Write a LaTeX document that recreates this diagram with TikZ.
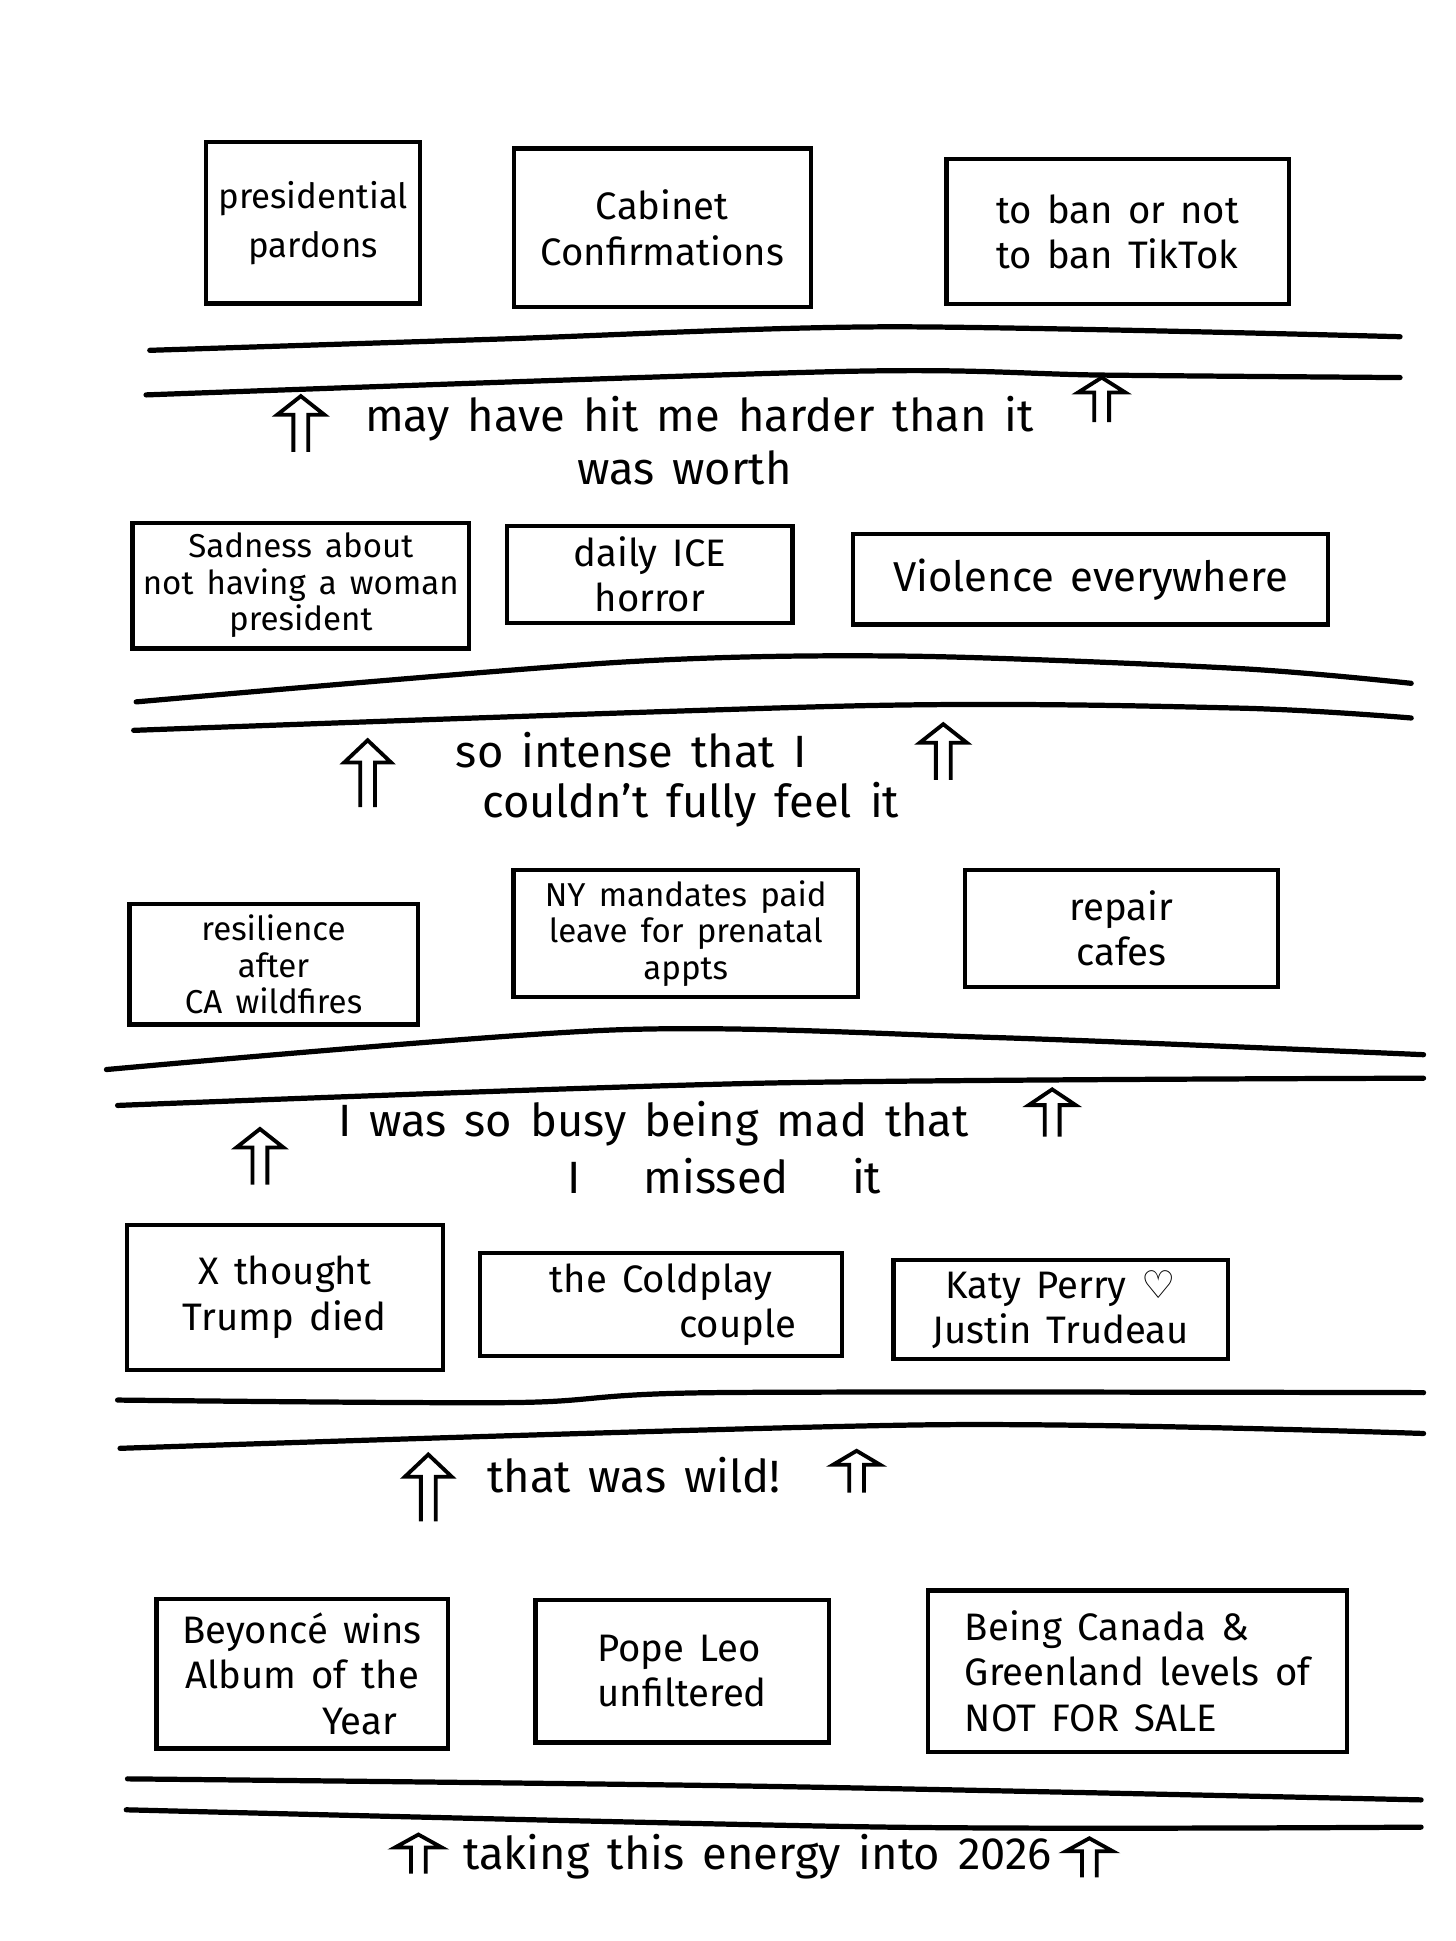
\documentclass[tikz,border=0pt]{standalone}
\usepackage{fontspec}
\setmainfont{Fira Sans}[WordSpace=1.5]
\newfontfamily\symfont{DejaVu Sans}
\usepackage{tikz}
\usetikzlibrary{positioning}
\tikzset{
  memobox/.style={draw=black,line width=1.2pt,align=center,inner sep=3pt,
    font=\fontsize{11}{13}\selectfont},
  memoboxs/.style={memobox,font=\fontsize{9.5}{10.5}\selectfont},
  rail/.style={line width=1.5pt,line cap=round},
  saying/.style={font=\fontsize{13}{15}\selectfont,inner sep=1pt},
  uparr/.pic={
    \draw[line width=1.1pt,line join=miter]
      (-6,45) -- (-6,15) -- (-19,15) -- (0,0) -- (19,15) -- (6,15) -- (6,45);
  }
}
\begin{document}
\begin{tikzpicture}[x=0.0125cm,y=-0.0125cm]
  \useasboundingbox[fill=white] (0,0) rectangle (1176,1568);
  % row 1
  \node[memobox,font=\fontsize{10}{14}\selectfont,minimum width=2.16cm,minimum height=1.63cm] (pardons) at (253,180) {presidential\\pardons};
  \node[memobox,minimum width=3.00cm,minimum height=1.60cm] (cabinet) at (535,184) {Cabinet\\Confirmations};
  \node[memobox,align=left,minimum width=3.46cm,minimum height=1.46cm] (tiktok) at (903,187) {to ban or not\\to ban TikTok};
  \draw[rail] plot[smooth] coordinates {(121,283) (400,274) (717,264) (1131,272)};
  \draw[rail] plot[smooth] coordinates {(118,319) (683,300) (891,303) (1131,305)};
  \pic at (243,320) {uparr};
  \pic[yscale=0.8] at (890,305) {uparr};
  \node[saying] (say1a) at (565,338) {may have hit me harder than it};
  \node[saying] (say1b) at (553,378) {was worth};
  % row 2
  \node[memoboxs,minimum width=3.09cm,minimum height=1.21cm] (sadness) at (243,473) {Sadness about\\not having a woman\\president};
  \node[memobox,minimum width=2.88cm,minimum height=0.98cm] (ice) at (525,464) {daily ICE\\horror};
  \node[memobox,font=\fontsize{12}{14}\selectfont,minimum width=4.79cm,minimum height=0.91cm] (violence) at (881,468) {Violence everywhere};
  \draw[rail] plot[smooth] coordinates {(110,567) (500,535) (730,530) (1000,540) (1140,552)};
  \draw[rail] plot[smooth] coordinates {(108,590) (700,570) (1000,572) (1140,580)};
  \pic[yscale=1.2] at (297,598) {uparr};
  \pic at (762,585) {uparr};
  \node[saying] (say2a) at (510,606) {so intense that I};
  \node[saying] (say2b) at (558,650) {couldn't fully feel it};
  % row 3
  \node[memoboxs,minimum width=2.91cm,minimum height=1.18cm] (wildfires) at (221,779) {resilience\\after\\CA wildfires};
  \node[memoboxs,minimum width=3.48cm,minimum height=1.23cm] (prenatal) at (554,754) {NY mandates paid\\leave for prenatal\\appts};
  \node[memobox,minimum width=3.16cm,minimum height=1.18cm] (repair) at (906,750) {repair\\cafes};
  \draw[rail] plot[smooth] coordinates {(86,864) (496,832) (800,838) (1150,852)};
  \draw[rail] plot[smooth] coordinates {(95,893) (616,875) (1150,871)};
  \pic at (210,912) {uparr};
  \pic[yscale=0.85] at (850,880) {uparr};
  \node[saying] (say3a) at (528,908) {I was so busy being mad that};
  \node[saying] (say3b) at (585,950) {I \quad missed \quad it};
  % row 4
  \node[memobox,minimum width=3.19cm,minimum height=1.46cm] (trump) at (230,1048) {X thought\\Trump died};
  \node[memobox,minimum width=3.65cm,minimum height=0.98cm] (coldplay) at (534,1054) {the Coldplay\\\hspace*{4em}couple};
  \node[memobox,minimum width=3.38cm,minimum height=0.96cm] (katy) at (857,1058) {Katy Perry {\symfont ♡}\\Justin Trudeau};
  \draw[rail] plot[smooth] coordinates {(95,1131) (416,1133) (577,1125) (1150,1125)};
  \draw[rail] plot[smooth] coordinates {(97,1170) (750,1151) (1150,1158)};
  \pic[yscale=1.2] at (346,1175) {uparr};
  \pic[yscale=0.75] at (692,1172) {uparr};
  \node[saying] (say4) at (512,1192) {that was wild!};
  % row 5
  \node[memobox,minimum width=2.94cm,minimum height=1.51cm] (beyonce) at (244,1352) {Beyoncé wins\\Album of the\\\hspace*{3em}Year};
  \node[memobox,align=left,minimum width=2.96cm,minimum height=1.44cm] (pope) at (551,1350) {Pope Leo\\unfiltered};
  \node[memobox,align=left,minimum width=4.23cm,minimum height=1.63cm] (canada) at (919,1350) {Being Canada \&\\Greenland levels of\\NOT FOR SALE};
  \draw[rail] plot[smooth] coordinates {(103,1437) (616,1443) (1148,1454)};
  \draw[rail] plot[smooth] coordinates {(102,1462) (717,1476) (1148,1476)};
  \pic[yscale=0.7] at (338,1482) {uparr};
  \pic[yscale=0.7] at (880,1485) {uparr};
  \node[saying] (say5) at (612,1500) {taking this energy into 2026};
\end{tikzpicture}
\end{document}
